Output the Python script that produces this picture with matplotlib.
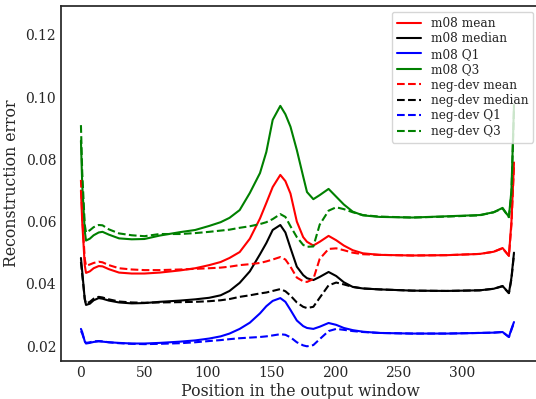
import matplotlib
matplotlib.use('Agg')
import matplotlib.pyplot as plt

# positions in the output window
pos = [0, 1, 3, 4, 7, 10, 14, 17, 22, 30, 40, 50, 62, 78, 90, 101, 110, 117, 125, 133,
       141, 146, 151, 157, 161, 165, 170, 175, 178, 183, 188, 195, 201, 207, 214, 222,
       235, 261, 288, 314, 325, 332, 337, 339, 341]

m08_mean = [0.070, 0.060, 0.046, 0.0435, 0.0440, 0.0450, 0.0457, 0.0456, 0.0447, 0.0436,
            0.0433, 0.0433, 0.0436, 0.0443, 0.0450, 0.0460, 0.0470, 0.0483, 0.0502, 0.0545,
            0.0610, 0.0660, 0.0711, 0.0750, 0.0730, 0.0690, 0.0600, 0.0550, 0.0535, 0.0523,
            0.0535, 0.0554, 0.0540, 0.0523, 0.0508, 0.0498, 0.0493, 0.0491, 0.0492, 0.0496,
            0.0503, 0.0515, 0.0490, 0.0600, 0.0790]
m08_median = [0.0483, 0.044, 0.0350, 0.0332, 0.0336, 0.0347, 0.0354, 0.0352, 0.0346, 0.0340,
              0.0337, 0.0338, 0.0342, 0.0346, 0.0350, 0.0355, 0.0363, 0.0377, 0.0403, 0.0440,
              0.0495, 0.0531, 0.0573, 0.0589, 0.0565, 0.0515, 0.0455, 0.0428, 0.0418, 0.0412,
              0.0422, 0.0438, 0.0425, 0.0405, 0.0390, 0.0385, 0.0382, 0.0378, 0.0377, 0.0379,
              0.0384, 0.0393, 0.0370, 0.0420, 0.0500]
m08_q1 = [0.0255, 0.0245, 0.0215, 0.0208, 0.0210, 0.0213, 0.0215, 0.0214, 0.0212, 0.0210,
          0.0208, 0.0208, 0.0210, 0.0214, 0.0218, 0.0224, 0.0231, 0.0240, 0.0255, 0.0275,
          0.0305, 0.0328, 0.0345, 0.0354, 0.0342, 0.0316, 0.0282, 0.0264, 0.0258, 0.0255,
          0.0262, 0.0274, 0.0268, 0.0258, 0.0251, 0.0246, 0.0242, 0.0240, 0.0240, 0.0242,
          0.0243, 0.0245, 0.0229, 0.0255, 0.0277]
m08_q3 = [0.086, 0.072, 0.057, 0.0539, 0.0545, 0.0556, 0.0565, 0.0567, 0.0558, 0.0546,
          0.0543, 0.0544, 0.0555, 0.0566, 0.0573, 0.0586, 0.0598, 0.0612, 0.0637, 0.0692,
          0.0756, 0.0824, 0.0927, 0.0972, 0.0945, 0.0905, 0.0830, 0.0745, 0.0695, 0.0672,
          0.0685, 0.0705, 0.0680, 0.0655, 0.0632, 0.0620, 0.0615, 0.0613, 0.0617, 0.0621,
          0.0630, 0.0644, 0.0615, 0.0700, 0.0975]

neg_mean = [0.0734, 0.062, 0.048, 0.0458, 0.0462, 0.0467, 0.0471, 0.0469, 0.0460, 0.0450,
            0.0446, 0.0444, 0.0444, 0.0446, 0.0448, 0.0450, 0.0452, 0.0455, 0.0460, 0.0463,
            0.0467, 0.0472, 0.0478, 0.0486, 0.0478, 0.0455, 0.0420, 0.0408, 0.0406, 0.0415,
            0.0480, 0.0512, 0.0514, 0.0508, 0.0500, 0.0495, 0.0493, 0.0491, 0.0492, 0.0496,
            0.0503, 0.0514, 0.0490, 0.0590, 0.0780]
neg_median = [0.047, 0.043, 0.0352, 0.0336, 0.0342, 0.0352, 0.0358, 0.0356, 0.0350, 0.0343,
              0.0340, 0.0339, 0.0340, 0.0341, 0.0342, 0.0344, 0.0347, 0.0351, 0.0358, 0.0363,
              0.0369, 0.0372, 0.0377, 0.0383, 0.0376, 0.0362, 0.0340, 0.0326, 0.0322, 0.0326,
              0.0355, 0.0395, 0.0404, 0.0398, 0.0390, 0.0385, 0.0382, 0.0378, 0.0377, 0.0379,
              0.0384, 0.0392, 0.0370, 0.0415, 0.0495]
neg_q1 = [0.0248, 0.0240, 0.0215, 0.0210, 0.0212, 0.0215, 0.0216, 0.0215, 0.0212, 0.0209,
          0.0207, 0.0206, 0.0207, 0.0209, 0.0212, 0.0216, 0.0219, 0.0222, 0.0225, 0.0227,
          0.0229, 0.0231, 0.0234, 0.0238, 0.0236, 0.0228, 0.0212, 0.0202, 0.0199, 0.0203,
          0.0222, 0.0248, 0.0255, 0.0252, 0.0248, 0.0245, 0.0242, 0.0240, 0.0240, 0.0242,
          0.0243, 0.0245, 0.0229, 0.0252, 0.0275]
neg_q3 = [0.091, 0.076, 0.059, 0.0565, 0.0572, 0.0582, 0.0589, 0.0588, 0.0575, 0.0562,
          0.0556, 0.0553, 0.0560, 0.0560, 0.0563, 0.0567, 0.0571, 0.0574, 0.0580, 0.0585,
          0.0592, 0.0598, 0.0608, 0.0624, 0.0615, 0.0585, 0.0550, 0.0525, 0.0519, 0.0520,
          0.0590, 0.0635, 0.0646, 0.0640, 0.0630, 0.0621, 0.0616, 0.0613, 0.0616, 0.0620,
          0.0630, 0.0642, 0.0614, 0.0690, 0.0960]

plt.style.use('seaborn-v0_8-white')
plt.rcParams['font.family'] = 'serif'
plt.rcParams['font.serif'] = ['DejaVu Serif']

fig = plt.figure(figsize=(5.36, 3.99), dpi=100)
ax = fig.add_axes([61 / 536, 38 / 399, 478 / 536, 355 / 399])

ax.plot(pos, m08_mean, color='red', lw=1.5, label='m08 mean')
ax.plot(pos, m08_median, color='black', lw=1.5, label='m08 median')
ax.plot(pos, m08_q1, color='blue', lw=1.5, label='m08 Q1')
ax.plot(pos, m08_q3, color='green', lw=1.5, label='m08 Q3')
ax.plot(pos, neg_mean, color='red', ls='--', lw=1.5, label='neg-dev mean')
ax.plot(pos, neg_median, color='black', ls='--', lw=1.5, label='neg-dev median')
ax.plot(pos, neg_q1, color='blue', ls='--', lw=1.5, label='neg-dev Q1')
ax.plot(pos, neg_q3, color='green', ls='--', lw=1.5, label='neg-dev Q3')

ax.set_xlim(-15.7, 360.7)
ax.set_ylim(0.01518, 0.1293)
ax.set_xticks([0, 50, 100, 150, 200, 250, 300])
ax.set_yticks([0.02, 0.04, 0.06, 0.08, 0.10, 0.12])
ax.tick_params(labelsize=10, colors='0.15')
for s in ax.spines.values():
    s.set_color('0.15')
    s.set_linewidth(1.25)

ax.set_xlabel('Position in the output window', fontsize=11.3, color='0.15', labelpad=2)
ax.set_ylabel('Reconstruction error', fontsize=11.3, color='0.15')
ax.legend(loc='upper right', fontsize=8.7, frameon=True, labelspacing=0.2)

fig.savefig('out.png', dpi=100)
